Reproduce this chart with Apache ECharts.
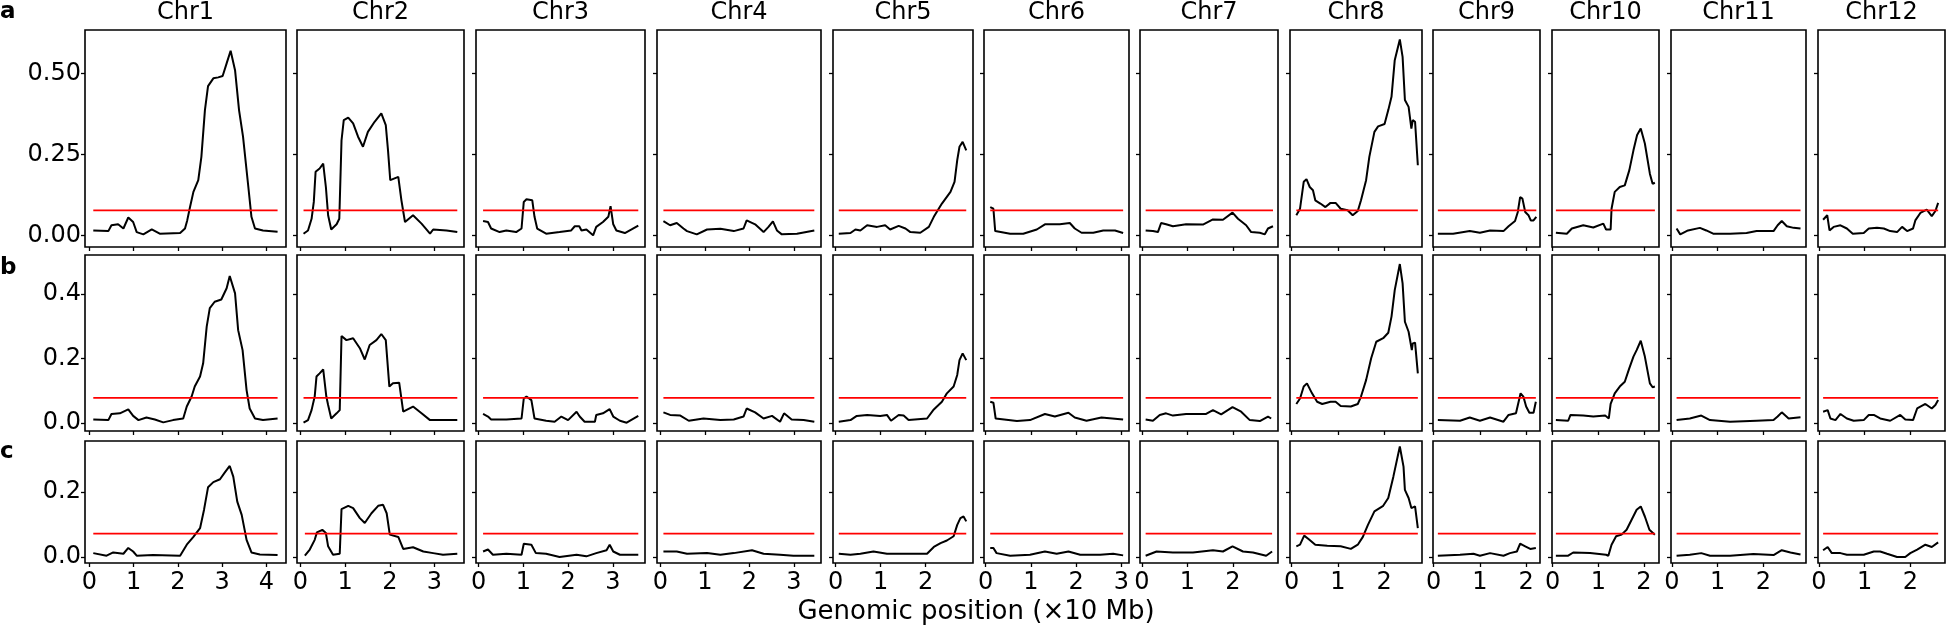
<!DOCTYPE html>
<html><head><meta charset="utf-8">
<script src="https://cdn.jsdelivr.net/npm/echarts@6/dist/echarts.min.js"></script>
<style>html,body{margin:0;padding:0;background:#fff}#c{width:1946px;height:629px}</style>
</head><body><div id="c"></div>
<script>
// ---------------- DATA ----------------
const chromosomes = ['Chr1','Chr2','Chr3','Chr4','Chr5','Chr6','Chr7','Chr8','Chr9','Chr10','Chr11','Chr12'];
const rowLabels = ['a','b','c'];
const thresholds = [0.078, 0.078, 0.072];
const yTickValues = [[0,0.25,0.5],[0,0.2,0.4],[0,0.2]];
const yTickDigits = [2,1,1];
const xTickValues = [[0,1,2,3,4],[0,1,2,3],[0,1,2,3],[0,1,2,3],[0,1,2],[0,1,2,3],[0,1,2],[0,1,2],[0,1,2],[0,1,2],[0,1,2],[0,1,2]];
const xAxisTitle = 'Genomic position (×10 Mb)';

const chr1_a = [[0.09,0.016],[0.43,0.014],[0.50,0.032],[0.65,0.035],[0.77,0.022],[0.88,0.056],[0.99,0.042],[1.07,0.011],[1.22,0.004],[1.41,0.019],[1.59,0.006],[2.05,0.008],[2.16,0.022],[2.21,0.047],[2.27,0.086],[2.35,0.135],[2.46,0.171],[2.53,0.243],[2.61,0.387],[2.68,0.461],[2.80,0.485],[2.91,0.488],[3.01,0.492],[3.10,0.531],[3.19,0.570],[3.29,0.510],[3.38,0.387],[3.47,0.305],[3.59,0.150],[3.66,0.058],[3.74,0.022],[3.92,0.016],[4.25,0.012]];
const chr1_b = [[0.09,0.011],[0.43,0.009],[0.50,0.028],[0.69,0.030],[0.88,0.042],[0.99,0.022],[1.11,0.009],[1.29,0.017],[1.48,0.011],[1.67,0.002],[1.89,0.009],[2.12,0.014],[2.20,0.051],[2.31,0.082],[2.38,0.113],[2.50,0.144],[2.57,0.185],[2.65,0.299],[2.72,0.356],[2.83,0.376],[2.98,0.383],[3.10,0.418],[3.17,0.456],[3.29,0.402],[3.36,0.288],[3.46,0.226],[3.55,0.102],[3.62,0.045],[3.74,0.014],[3.92,0.009],[4.25,0.014]];
const chr1_c = [[0.09,0.012],[0.39,0.004],[0.54,0.014],[0.77,0.010],[0.88,0.028],[0.99,0.017],[1.07,0.004],[1.44,0.006],[2.05,0.004],[2.20,0.038],[2.35,0.062],[2.50,0.089],[2.59,0.146],[2.68,0.215],[2.80,0.231],[2.95,0.240],[3.06,0.261],[3.17,0.281],[3.25,0.248],[3.34,0.171],[3.44,0.130],[3.55,0.053],[3.66,0.014],[3.85,0.008],[4.25,0.006]];

const chr2_a = [[0.07,0.006],[0.17,0.016],[0.25,0.052],[0.30,0.104],[0.34,0.197],[0.43,0.207],[0.51,0.222],[0.57,0.150],[0.62,0.063],[0.69,0.019],[0.81,0.035],[0.87,0.052],[0.92,0.294],[0.97,0.356],[1.07,0.364],[1.18,0.346],[1.29,0.305],[1.40,0.274],[1.51,0.320],[1.66,0.351],[1.81,0.377],[1.91,0.341],[1.96,0.263],[2.01,0.171],[2.19,0.181],[2.26,0.109],[2.34,0.042],[2.52,0.063],[2.71,0.037],[2.90,0.006],[2.97,0.019],[3.27,0.016],[3.51,0.011]];
const chr2_b = [[0.07,0.001],[0.17,0.009],[0.25,0.040],[0.32,0.082],[0.36,0.144],[0.43,0.154],[0.51,0.166],[0.58,0.082],[0.62,0.056],[0.69,0.014],[0.81,0.030],[0.88,0.040],[0.92,0.270],[1.03,0.257],[1.18,0.263],[1.33,0.232],[1.44,0.197],[1.55,0.242],[1.70,0.257],[1.81,0.276],[1.91,0.257],[1.99,0.113],[2.07,0.123],[2.21,0.125],[2.30,0.035],[2.52,0.051],[2.71,0.030],[2.90,0.009],[3.19,0.009],[3.51,0.009]];
const chr2_c = [[0.10,0.004],[0.21,0.023],[0.32,0.053],[0.37,0.076],[0.49,0.084],[0.57,0.074],[0.62,0.033],[0.73,0.007],[0.88,0.010],[0.92,0.148],[1.07,0.158],[1.18,0.151],[1.33,0.120],[1.44,0.105],[1.59,0.135],[1.74,0.158],[1.85,0.161],[1.93,0.135],[2.00,0.069],[2.19,0.062],[2.30,0.025],[2.52,0.030],[2.75,0.017],[2.97,0.012],[3.19,0.007],[3.51,0.010]];

const chr3_a = [[0.10,0.045],[0.21,0.042],[0.28,0.022],[0.47,0.011],[0.62,0.016],[0.84,0.011],[0.96,0.022],[1.01,0.104],[1.07,0.112],[1.20,0.109],[1.25,0.058],[1.31,0.022],[1.51,0.006],[1.81,0.011],[2.07,0.016],[2.15,0.029],[2.25,0.029],[2.30,0.016],[2.41,0.019],[2.56,0.001],[2.63,0.027],[2.78,0.042],[2.90,0.058],[2.95,0.091],[3.01,0.035],[3.08,0.016],[3.27,0.008],[3.42,0.019],[3.57,0.031]];
const chr3_b = [[0.10,0.028],[0.21,0.020],[0.28,0.011],[0.62,0.011],[0.96,0.014],[1.01,0.076],[1.07,0.082],[1.18,0.071],[1.25,0.014],[1.51,0.007],[1.70,0.004],[1.85,0.020],[2.00,0.009],[2.19,0.035],[2.26,0.020],[2.37,0.004],[2.60,0.004],[2.63,0.025],[2.78,0.030],[2.93,0.043],[3.01,0.020],[3.16,0.007],[3.31,0.001],[3.57,0.022]];
const chr3_c = [[0.10,0.017],[0.21,0.023],[0.32,0.007],[0.62,0.010],[0.96,0.007],[1.01,0.041],[1.18,0.038],[1.28,0.012],[1.51,0.010],[1.81,0.000],[2.19,0.007],[2.41,0.002],[2.63,0.012],[2.86,0.021],[2.93,0.038],[3.01,0.017],[3.16,0.007],[3.57,0.007]];

const chr4_a = [[0.07,0.045],[0.22,0.032],[0.37,0.039],[0.52,0.022],[0.60,0.014],[0.82,0.004],[1.05,0.019],[1.35,0.021],[1.65,0.014],[1.87,0.022],[1.94,0.047],[2.13,0.035],[2.32,0.011],[2.43,0.027],[2.53,0.044],[2.62,0.016],[2.73,0.004],[3.07,0.006],[3.46,0.016]];
const chr4_b = [[0.07,0.033],[0.22,0.025],[0.45,0.023],[0.64,0.007],[0.97,0.014],[1.35,0.009],[1.65,0.011],[1.87,0.020],[1.94,0.045],[2.13,0.033],[2.32,0.014],[2.51,0.022],[2.69,0.004],[2.78,0.030],[2.95,0.011],[3.22,0.009],[3.46,0.004]];
const chr4_c = [[0.07,0.017],[0.37,0.017],[0.60,0.010],[1.05,0.012],[1.35,0.007],[1.65,0.012],[2.06,0.021],[2.32,0.010],[2.69,0.007],[2.99,0.004],[3.46,0.004]];

const chr5_a = [[0.07,0.006],[0.33,0.008],[0.44,0.019],[0.55,0.016],[0.70,0.032],[0.92,0.027],[1.10,0.032],[1.21,0.019],[1.40,0.030],[1.55,0.022],[1.66,0.011],[1.88,0.009],[2.07,0.027],[2.18,0.058],[2.36,0.099],[2.55,0.135],[2.64,0.166],[2.70,0.233],[2.75,0.274],[2.82,0.289],[2.90,0.263]];
const chr5_b = [[0.07,0.004],[0.33,0.009],[0.47,0.022],[0.70,0.025],[0.99,0.022],[1.14,0.025],[1.23,0.007],[1.40,0.025],[1.51,0.023],[1.62,0.009],[2.03,0.014],[2.18,0.042],[2.36,0.066],[2.47,0.092],[2.62,0.113],[2.70,0.149],[2.75,0.195],[2.82,0.216],[2.90,0.195]];
const chr5_c = [[0.07,0.010],[0.33,0.007],[0.55,0.010],[0.84,0.017],[1.14,0.010],[1.51,0.010],[2.03,0.010],[2.18,0.031],[2.33,0.043],[2.47,0.051],[2.62,0.064],[2.70,0.099],[2.77,0.120],[2.84,0.125],[2.90,0.110]];

const chr6_a = [[0.10,0.088],[0.17,0.083],[0.21,0.014],[0.54,0.006],[0.83,0.006],[1.13,0.019],[1.31,0.035],[1.64,0.035],[1.86,0.039],[1.97,0.022],[2.12,0.009],[2.38,0.009],[2.60,0.016],[2.86,0.016],[3.04,0.008]];
const chr6_b = [[0.10,0.066],[0.17,0.063],[0.22,0.014],[0.69,0.006],[0.98,0.009],[1.31,0.028],[1.53,0.020],[1.83,0.032],[1.97,0.017],[2.23,0.007],[2.56,0.017],[3.04,0.011]];
const chr6_c = [[0.10,0.028],[0.17,0.028],[0.24,0.012],[0.54,0.004],[0.98,0.007],[1.31,0.017],[1.57,0.010],[1.83,0.017],[2.09,0.007],[2.53,0.007],[2.82,0.010],[3.04,0.005]];

const chr7_a = [[0.08,0.016],[0.24,0.014],[0.35,0.011],[0.42,0.039],[0.53,0.035],[0.68,0.029],[0.97,0.035],[1.34,0.034],[1.56,0.050],[1.78,0.049],[1.99,0.071],[2.11,0.052],[2.29,0.032],[2.40,0.011],[2.59,0.009],[2.70,0.004],[2.77,0.022],[2.88,0.029]];
const chr7_b = [[0.08,0.011],[0.24,0.007],[0.39,0.025],[0.53,0.030],[0.68,0.023],[0.97,0.028],[1.41,0.028],[1.56,0.040],[1.74,0.027],[1.99,0.049],[2.18,0.035],[2.37,0.009],[2.59,0.006],[2.77,0.020],[2.84,0.014]];
const chr7_c = [[0.08,0.004],[0.32,0.017],[0.68,0.014],[1.12,0.014],[1.56,0.021],[1.78,0.017],[1.99,0.033],[2.22,0.017],[2.44,0.014],[2.73,0.004],[2.86,0.017]];

const chr8_a = [[0.10,0.063],[0.18,0.083],[0.26,0.166],[0.32,0.174],[0.39,0.150],[0.46,0.140],[0.51,0.109],[0.62,0.099],[0.73,0.088],[0.84,0.101],[0.95,0.101],[1.06,0.083],[1.21,0.078],[1.32,0.063],[1.43,0.076],[1.50,0.109],[1.61,0.171],[1.68,0.243],[1.79,0.320],[1.87,0.337],[2.01,0.344],[2.09,0.387],[2.16,0.428],[2.23,0.541],[2.34,0.605],[2.40,0.551],[2.45,0.418],[2.53,0.397],[2.59,0.330],[2.62,0.356],[2.67,0.351],[2.73,0.217]];
const chr8_b = [[0.10,0.059],[0.18,0.076],[0.26,0.113],[0.33,0.123],[0.44,0.092],[0.55,0.066],[0.66,0.059],[0.84,0.066],[0.95,0.066],[1.06,0.053],[1.28,0.051],[1.43,0.059],[1.50,0.082],[1.61,0.133],[1.72,0.201],[1.83,0.252],[1.98,0.263],[2.09,0.280],[2.16,0.330],[2.23,0.412],[2.34,0.493],[2.40,0.433],[2.45,0.314],[2.53,0.283],[2.60,0.226],[2.62,0.247],[2.67,0.249],[2.73,0.154]];
const chr8_c = [[0.10,0.033],[0.18,0.038],[0.27,0.066],[0.37,0.055],[0.51,0.038],[0.77,0.035],[1.06,0.033],[1.28,0.025],[1.43,0.038],[1.54,0.062],[1.65,0.099],[1.79,0.141],[1.98,0.158],[2.09,0.182],[2.20,0.248],[2.34,0.341],[2.42,0.279],[2.45,0.207],[2.53,0.182],[2.59,0.151],[2.67,0.156],[2.73,0.089]];

const chr9_a = [[0.09,0.006],[0.42,0.006],[0.78,0.014],[1.00,0.009],[1.22,0.016],[1.51,0.014],[1.62,0.029],[1.76,0.045],[1.82,0.073],[1.87,0.119],[1.92,0.114],[1.98,0.073],[2.05,0.063],[2.10,0.047],[2.16,0.047],[2.22,0.058]];
const chr9_b = [[0.09,0.009],[0.57,0.007],[0.78,0.017],[1.00,0.007],[1.22,0.017],[1.51,0.004],[1.62,0.025],[1.78,0.030],[1.83,0.061],[1.88,0.092],[1.94,0.082],[2.00,0.051],[2.07,0.032],[2.16,0.032],[2.21,0.066]];
const chr9_c = [[0.09,0.004],[0.57,0.007],[0.86,0.010],[1.00,0.004],[1.22,0.012],[1.51,0.004],[1.65,0.012],[1.80,0.017],[1.87,0.041],[1.98,0.033],[2.09,0.025],[2.21,0.028]];

const chr10_a = [[0.07,0.009],[0.31,0.006],[0.42,0.022],[0.67,0.032],[0.89,0.025],[1.11,0.037],[1.17,0.019],[1.27,0.019],[1.29,0.083],[1.36,0.135],[1.47,0.150],[1.58,0.155],[1.68,0.202],[1.77,0.263],[1.85,0.310],[1.93,0.330],[2.02,0.284],[2.13,0.191],[2.19,0.160],[2.24,0.163]];
const chr10_b = [[0.07,0.009],[0.34,0.007],[0.39,0.025],[0.67,0.023],[0.89,0.020],[1.15,0.023],[1.23,0.014],[1.27,0.059],[1.36,0.092],[1.47,0.113],[1.58,0.128],[1.68,0.170],[1.77,0.206],[1.84,0.226],[1.93,0.255],[2.02,0.206],[2.13,0.123],[2.19,0.111],[2.24,0.113]];
const chr10_c = [[0.07,0.004],[0.34,0.004],[0.45,0.014],[0.82,0.012],[1.17,0.007],[1.22,0.004],[1.29,0.038],[1.39,0.064],[1.51,0.069],[1.62,0.084],[1.73,0.115],[1.84,0.146],[1.93,0.156],[2.02,0.125],[2.12,0.084],[2.24,0.069]];

const chr11_a = [[0.10,0.022],[0.18,0.004],[0.35,0.016],[0.61,0.024],[0.75,0.016],[0.90,0.006],[1.27,0.006],[1.63,0.008],[1.85,0.014],[2.22,0.014],[2.31,0.032],[2.40,0.045],[2.51,0.029],[2.66,0.024],[2.81,0.022]];
const chr11_b = [[0.10,0.009],[0.39,0.014],[0.64,0.023],[0.83,0.009],[1.27,0.004],[1.85,0.007],[2.22,0.009],[2.31,0.020],[2.40,0.033],[2.55,0.014],[2.81,0.018]];
const chr11_c = [[0.10,0.004],[0.39,0.007],[0.64,0.012],[0.83,0.004],[1.27,0.004],[1.78,0.009],[2.22,0.006],[2.40,0.021],[2.59,0.014],[2.81,0.008]];

const chr12_a = [[0.09,0.049],[0.18,0.063],[0.23,0.016],[0.32,0.027],[0.47,0.032],[0.61,0.022],[0.74,0.006],[0.98,0.008],[1.09,0.022],[1.27,0.024],[1.42,0.022],[1.56,0.014],[1.71,0.011],[1.82,0.027],[1.93,0.014],[2.06,0.022],[2.11,0.047],[2.22,0.070],[2.36,0.080],[2.47,0.060],[2.55,0.076],[2.61,0.101]];
const chr12_b = [[0.09,0.035],[0.19,0.040],[0.25,0.014],[0.36,0.009],[0.47,0.028],[0.61,0.014],[0.76,0.007],[0.98,0.009],[1.09,0.025],[1.20,0.025],[1.34,0.014],[1.56,0.007],[1.78,0.025],[1.89,0.011],[2.06,0.009],[2.15,0.045],[2.33,0.059],[2.47,0.045],[2.55,0.056],[2.61,0.071]];
const chr12_c = [[0.09,0.021],[0.19,0.031],[0.28,0.012],[0.47,0.012],[0.61,0.007],[0.98,0.007],[1.20,0.017],[1.34,0.017],[1.49,0.010],[1.71,0.000],[1.89,0.000],[2.00,0.012],[2.15,0.023],[2.33,0.038],[2.47,0.031],[2.61,0.045]];

const profiles = [
  [chr1_a, chr1_b, chr1_c], [chr2_a, chr2_b, chr2_c], [chr3_a, chr3_b, chr3_c],
  [chr4_a, chr4_b, chr4_c], [chr5_a, chr5_b, chr5_c], [chr6_a, chr6_b, chr6_c],
  [chr7_a, chr7_b, chr7_c], [chr8_a, chr8_b, chr8_c], [chr9_a, chr9_b, chr9_c],
  [chr10_a, chr10_b, chr10_c], [chr11_a, chr11_b, chr11_c], [chr12_a, chr12_b, chr12_c]
];

// ---------------- LAYOUT ----------------
const panelLeft  = [85, 297, 476, 657, 833, 984, 1140, 1290, 1433, 1552, 1671, 1818];
const panelRight = [286, 464, 645, 821, 973, 1129, 1278, 1422, 1540, 1659, 1806, 1945];
const rowTop = [30, 255, 441];
const rowBottom = [247, 431, 563];
const xRange = [[-0.097,4.44],[-0.076,3.66],[-0.058,3.72],[-0.074,3.61],[-0.058,3.05],[-0.038,3.17],[-0.044,2.99],[-0.037,2.82],[-0.015,2.30],[-0.015,2.33],[-0.022,2.93],[-0.022,2.76]];
const yRange = [[-0.035,0.634],[-0.0248,0.521],[-0.0185,0.358]];
const FONT = '"DejaVu Sans", "Liberation Sans", Arial, sans-serif';

const grids = [], xAxes = [], yAxes = [], series = [];
for (let r = 0; r < 3; r++) {
  for (let c = 0; c < chromosomes.length; c++) {
    const idx = grids.length;
    grids.push({
      left: panelLeft[c], top: rowTop[r],
      width: panelRight[c] - panelLeft[c], height: rowBottom[r] - rowTop[r],
      show: true, borderColor: '#000', borderWidth: 1.6, backgroundColor: 'transparent'
    });
    xAxes.push({
      gridIndex: idx, type: 'value', min: xRange[c][0], max: xRange[c][1],
      axisLine: { show: false, onZero: false }, splitLine: { show: false },
      axisTick: { show: true, length: 4, lineStyle: { color: '#000', width: 1.3 }, customValues: xTickValues[c] },
      axisLabel: { show: r === 2, customValues: xTickValues[c], margin: 8, color: '#000', fontSize: 24, fontFamily: FONT }
    });
    yAxes.push({
      gridIndex: idx, type: 'value', min: yRange[r][0], max: yRange[r][1],
      axisLine: { show: false, onZero: false }, splitLine: { show: false },
      axisTick: { show: true, length: 4, lineStyle: { color: '#000', width: 1.3 }, customValues: yTickValues[r] },
      axisLabel: { show: c === 0, customValues: yTickValues[r], margin: 4, color: '#000', fontSize: 24, fontFamily: FONT,
        formatter: (v) => Number(v).toFixed(yTickDigits[r]) }
    });
    const prof = profiles[c][r];
    series.push({
      type: 'line', xAxisIndex: idx, yAxisIndex: idx, data: prof,
      showSymbol: false, symbol: 'none', silent: true, z: 2,
      lineStyle: { color: '#000', width: 2 }
    });
    series.push({
      type: 'line', xAxisIndex: idx, yAxisIndex: idx,
      data: [[prof[0][0], thresholds[r]], [prof[prof.length - 1][0], thresholds[r]]],
      showSymbol: false, symbol: 'none', silent: true, z: 3,
      lineStyle: { color: '#ff0000', width: 1.8 }
    });
  }
}

const graphics = [];
chromosomes.forEach((name, c) => {
  graphics.push({ type: 'text', x: (panelLeft[c] + panelRight[c]) / 2, y: 13, silent: true,
    style: { text: name, fill: '#000', font: '24px ' + FONT, textAlign: 'center', textVerticalAlign: 'middle', align: 'center', verticalAlign: 'middle' } });
});
const letterY = [12.5, 268, 452];
rowLabels.forEach((lab, r) => {
  graphics.push({ type: 'text', x: 0, y: letterY[r], silent: true,
    style: { text: lab, fill: '#000', font: 'bold 23px ' + FONT, textAlign: 'left', textVerticalAlign: 'middle', align: 'left', verticalAlign: 'middle' } });
});
graphics.push({ type: 'text', x: 976, y: 612, silent: true,
  style: { text: xAxisTitle, fill: '#000', font: '26px ' + FONT, textAlign: 'center', textVerticalAlign: 'middle', align: 'center', verticalAlign: 'middle' } });

const chart = echarts.init(document.getElementById('c'), null, { renderer: 'canvas' });
chart.setOption({
  animation: false,
  backgroundColor: '#fff',
  grid: grids, xAxis: xAxes, yAxis: yAxes, series: series,
  graphic: { elements: graphics }
});
</script>
</body></html>
